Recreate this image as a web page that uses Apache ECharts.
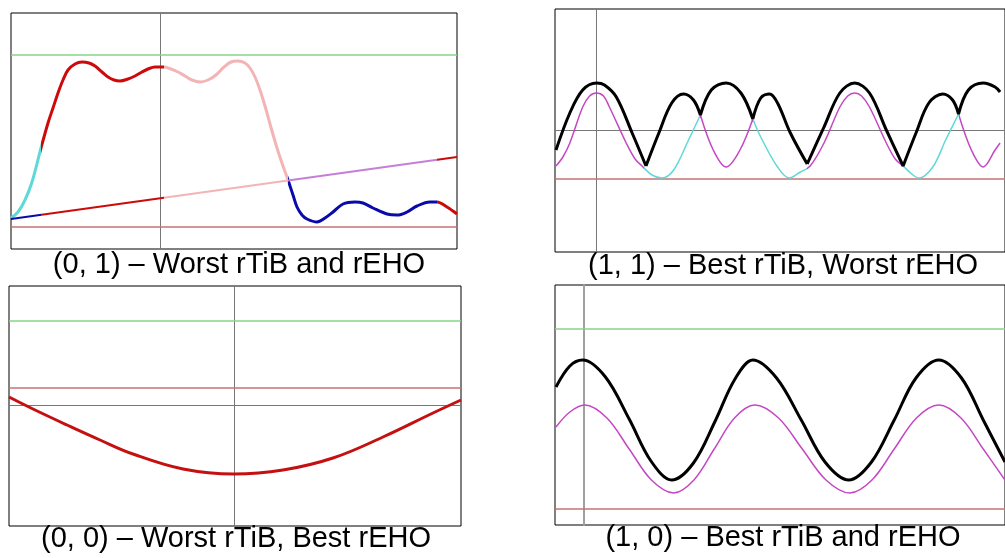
<!DOCTYPE html>
<html>
<head>
<meta charset="utf-8">
<script src="https://cdn.jsdelivr.net/npm/echarts@6/dist/echarts.min.js"></script>
<style>
html, body { margin: 0; padding: 0; background: #fff; }
#chart { width: 1005px; height: 558px; }
</style>
</head>
<body>
<div id="chart"></div>
<script>
// (0, 1) worst rTiB and rEHO
const curve01 = [
	[-14.9, 3.1], [-14.2, 3.7], [-13.5, 4.9], [-12.8, 6.7], [-11.9, 10.1],
	[-11.2, 12.6], [-10.7, 14.1], [-10.2, 15.6], [-9.7, 16.9], [-9.2, 17.9], [-8.5, 18.5],
	[-7.8, 18.7], [-7.1, 18.6], [-6.5, 18.3], [-5.8, 17.7], [-5.2, 17.2], [-4.6, 16.9],
	[-4.0, 16.8], [-3.2, 17.0], [-2.5, 17.3], [-1.8, 17.7], [-1.2, 18.0], [-0.5, 18.2],
	[0.4, 18.2], [1.1, 18.0], [1.8, 17.7], [2.5, 17.3], [3.2, 16.9], [4.0, 16.7],
	[4.8, 16.9], [5.6, 17.4], [6.4, 18.2], [7.1, 18.7], [7.8, 18.8], [8.5, 18.6],
	[9.0, 18.1], [9.5, 17.2], [10.0, 15.9], [10.5, 14.3], [11.0, 12.5], [11.7, 10.1],
	[12.3, 8.3], [12.8, 6.9], [13.3, 5.4], [13.7, 4.2], [14.2, 3.4], [14.7, 3.0],
	[15.7, 2.7], [16.5, 3.1], [17.3, 3.7], [18.3, 4.5], [19.5, 4.7], [20.3, 4.6],
	[21.3, 4.1], [22.7, 3.5], [23.7, 3.4], [24.7, 3.7], [25.7, 4.3], [27.0, 4.7],
	[27.7, 4.7], [28.7, 4.2], [29.7, 3.5]
]
const ramp01 = [[-14.9, 3.0], [29.7, 9.2]]
const edges01 = [-11.9, 0.4, 12.8, 27.7] // where the colour changes along x
const upper01 = 19.4
const lower01 = 2.2

// (1, 1) best rTiB, worst rEHO - black is split at its cusps
const black11 = [
	[[-4.1, -2.0], [-2.7, 1.7], [-1.4, 4.0], [0, 4.7], [0.8, 4.5], [2.0, 3.3], [3.6, -0.3], [5.0, -3.6]],
	[[5.0, -3.6], [6.3, -0.3], [7.6, 2.7], [8.8, 3.6], [9.8, 3.0], [10.5, 1.5]],
	[[10.5, 1.5], [11.6, 4.0], [13.1, 4.7], [14.6, 3.7], [15.8, 1.1]],
	[[15.8, 1.1], [16.6, 3.2], [17.5, 3.6], [18.3, 2.7], [19.6, -0.3], [21.3, -3.4]],
	[[21.3, -3.4], [23.0, 0.3], [24.6, 3.7], [26.1, 4.7], [27.6, 3.7], [29.3, 0], [31.0, -3.6]],
	[[31.0, -3.6], [32.3, -0.3], [33.6, 2.7], [35.0, 3.6], [36.0, 3.0], [36.6, 1.6]],
	[[36.6, 1.6], [37.6, 4.0], [39.1, 4.7], [40.3, 4.3], [40.8, 3.8]]
]
const thin11 = [
	[[-4.1, -3.6], [-3.4, -2.7], [-2.7, -1.3], [-1.4, 2.3], [-0.7, 3.4], [0, 3.7], [0.7, 3.4], [1.3, 2.3],
		[3.0, -1.3], [3.9, -2.9], [4.6, -3.6], [5.6, -4.5], [6.6, -4.8], [7.8, -4.0], [9.3, -1.0], [10.5, 1.5]],
	[[10.5, 1.5], [11.8, -2.0], [13.1, -3.7], [14.5, -2.0], [15.8, 1.1]],
	[[15.8, 1.1], [16.6, -0.7], [18.3, -3.7], [19.5, -4.8], [20.6, -4.2], [21.6, -3.6],
		[23.0, -1.3], [24.6, 2.3], [25.4, 3.4], [26.1, 3.7], [26.8, 3.4], [27.6, 2.3], [29.3, -1.3],
		[30.2, -2.9], [31.0, -3.6], [32.0, -4.5], [32.6, -4.8], [34.0, -3.7], [35.3, -1.0], [36.6, 1.6]],
	[[36.6, 1.6], [37.9, -2.0], [39.1, -3.7], [40.3, -2.0], [40.8, -1.3]]
]
const edges11 = [4.8, 10.5, 15.8, 21.3, 31.0, 36.6]
const lower11 = -4.9

// (0, 0) worst rTiB, best rEHO
const curve00 = [
	[-22.5, 0.8], [-20.1, -0.4], [-16.7, -2.0], [-13.4, -3.5], [-10.1, -4.9], [-5.1, -6.4],
	[0, -6.9], [4.9, -6.5], [9.9, -5.3], [14.9, -3.2], [19.9, -0.8], [22.7, 0.5]
]
const upper00 = 8.4
const lower00 = 1.7

// (1, 0) best rTiB and rEHO
const black10 = [
	[-2.8, 13.8], [-1.4, 15.9], [-0.1, 16.5], [2.2, 14.8], [4.6, 10.6], [6.8, 6.4],
	[8.9, 4.5], [11.1, 6.2], [13.3, 10.4], [15.3, 14.6], [17.1, 16.5], [19.5, 14.7],
	[22.0, 10.5], [24.4, 6.3], [26.8, 4.5], [29.1, 6.3], [31.4, 10.5], [33.6, 14.7],
	[35.9, 16.5], [38.2, 14.7], [40.4, 10.5], [42.6, 6.3]
]
const magenta10 = [
	[-2.8, 9.8], [-1.4, 11.3], [0.1, 12.0], [2.35, 10.7], [4.6, 7.6], [6.85, 4.5],
	[9.1, 3.2], [11.15, 4.5], [13.2, 7.6], [15.25, 10.7], [17.3, 12.0], [19.7, 10.7],
	[22.1, 7.6], [24.5, 4.5], [26.9, 3.2], [29.15, 4.5], [31.4, 7.6], [33.65, 10.7],
	[35.9, 12.0], [38.15, 10.7], [40.4, 7.6], [42.6, 4.5]
]
const upper10 = 19.6
const lower10 = 1.6

const captions = [
	'(0, 1) \u2013 Worst rTiB and rEHO',
	'(1, 1) \u2013 Best rTiB, Worst rEHO',
	'(0, 0) \u2013 Worst rTiB, Best rEHO',
	'(1, 0) \u2013 Best rTiB and rEHO'
]

const RED = '#cc0a0a'
const PINK = '#f2b4b4'
const BLUE = '#0a0aa8'
const CYAN = '#5fd8d8'
const MAGENTA = '#c447c4'
const VIOLET = '#c47fd6'
const GREEN = '#86d486'
const ROSE = '#c87272'

// panel boxes, in px, and their axis ranges
const panels = [
	{ left: 11, top: 13, width: 446, height: 236, x: [-14.9, 29.7], y: [0, 23.6], xLine: false },
	{ left: 555, top: 9, width: 455, height: 243, x: [-4.2, 41.3], y: [-12.2, 12.1], xLine: true },
	{ left: 9, top: 286, width: 452, height: 240, x: [-22.5, 22.7], y: [-12.1, 11.9], xLine: true },
	{ left: 555, top: 285, width: 455, height: 240, x: [-2.9, 42.6], y: [0, 24], xLine: false }
]

function joinSegs(segs) {
	const out = []
	segs.forEach(function(s, i) {
		if (i) out.push([s[0][0], null]) // break so cusps stay sharp
		s.forEach(function(p) { out.push(p) })
	})
	return out
}

function pieces(edges, colors) {
	return colors.map(function(c, i) {
		return {
			gte: i === 0 ? -100 : edges[i - 1],
			lt: i === edges.length ? 100 : edges[i],
			color: c
		}
	})
}

function refLine(i, v, color) {
	return {
		type: 'line',
		xAxisIndex: i,
		yAxisIndex: i,
		data: [[panels[i].x[0], v], [panels[i].x[1], v]],
		showSymbol: false,
		silent: true,
		lineStyle: { color: color, width: 1.5 },
		z: 1
	}
}

// color null -> the colour comes from a visualMap
function curve(i, data, color, width, smooth) {
	const lineStyle = { width: width }
	if (color) lineStyle.color = color
	return {
		type: 'line',
		xAxisIndex: i,
		yAxisIndex: i,
		data: data,
		smooth: smooth,
		showSymbol: false,
		silent: true,
		lineStyle: lineStyle,
		z: 3
	}
}

const myChart = echarts.init(document.getElementById('chart'), null, { renderer: 'canvas' })

var option = {
	animation: false,
	backgroundColor: '#fff',
	grid: panels.map(function(p) {
		return {
			left: p.left, top: p.top, width: p.width, height: p.height,
			show: true, borderColor: '#000', borderWidth: 1, backgroundColor: 'transparent'
		}
	}),
	xAxis: panels.map(function(p, i) {
		return {
			type: 'value', gridIndex: i, min: p.x[0], max: p.x[1],
			axisLine: { show: p.xLine, onZero: true, lineStyle: { color: '#777', width: 1 } },
			axisTick: { show: false }, axisLabel: { show: false }, splitLine: { show: false }
		}
	}),
	yAxis: panels.map(function(p, i) {
		return {
			type: 'value', gridIndex: i, min: p.y[0], max: p.y[1],
			axisLine: { show: true, onZero: true, lineStyle: { color: i === 3 ? '#a0a0a0' : '#777', width: i === 3 ? 2 : 1 } },
			axisTick: { show: false }, axisLabel: { show: false }, splitLine: { show: false }
		}
	}),
	visualMap: [
		{ type: 'piecewise', show: false, dimension: 0, seriesIndex: 0, pieces: pieces(edges01, [CYAN, RED, PINK, BLUE, RED]) },
		{ type: 'piecewise', show: false, dimension: 0, seriesIndex: 1, pieces: pieces(edges01, [BLUE, RED, PINK, VIOLET, RED]) },
		{ type: 'piecewise', show: false, dimension: 0, seriesIndex: 2, pieces: pieces(edges11, [MAGENTA, CYAN, MAGENTA, CYAN, MAGENTA, CYAN, MAGENTA]) }
	],
	series: [
		curve(0, curve01, null, 3, 0.35),
		curve(0, ramp01, null, 2, false),
		curve(1, joinSegs(thin11), null, 1.5, 0.35),
		curve(1, joinSegs(black11), '#000', 3, 0.35),
		curve(2, curve00, '#c41010', 3, 0.4),
		curve(3, magenta10, MAGENTA, 1.5, 0.35),
		curve(3, black10, '#000', 3, 0.35),
		refLine(0, upper01, GREEN),
		refLine(0, lower01, ROSE),
		refLine(1, lower11, ROSE),
		refLine(2, upper00, GREEN),
		refLine(2, lower00, ROSE),
		refLine(3, upper10, GREEN),
		refLine(3, lower10, ROSE)
	],
	graphic: [
		[239, 265], [783, 266], [236, 539], [783, 538]
	].map(function(pos, i) {
		return {
			type: 'text',
			x: pos[0],
			y: pos[1],
			silent: true,
			style: {
				text: captions[i],
				font: '29px "Liberation Sans", Arial, sans-serif',
				fill: '#000',
				textAlign: 'center',
				textVerticalAlign: 'middle',
				align: 'center',
				verticalAlign: 'middle'
			}
		}
	})
}
myChart.setOption(option)
</script>
</body>
</html>
